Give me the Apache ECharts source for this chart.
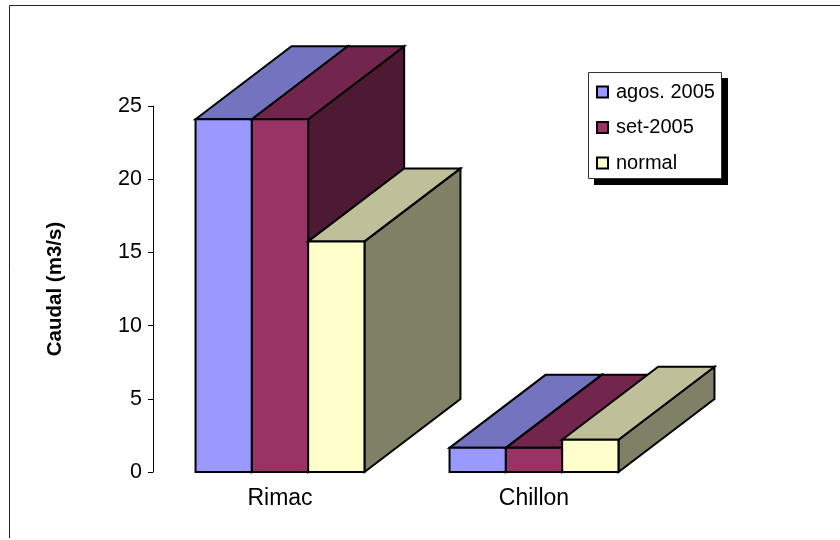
<!DOCTYPE html>
<html><head><meta charset="utf-8">
<style>html,body{margin:0;padding:0;background:#fff}#c{width:840px;height:540px}</style>
<script src="https://cdn.jsdelivr.net/npm/echarts@6/dist/echarts.min.js"></script>
</head><body><div id="c"></div>
<script>
const categories = ['Rimac', 'Chillon'];
const agos2005 = [24.1, 1.65];
const set2005 = [24.1, 1.65];
const normal = [15.75, 2.2];
const seriesNames = ['agos. 2005', 'set-2005', 'normal'];
const yTicks = {min: 0, max: 25, interval: 5};
const faces = [
  {front: '#9999FF', top: '#7373BF', side: '#4D4D80'},
  {front: '#993366', top: '#73264D', side: '#4D1933'},
  {front: '#FFFFCC', top: '#BFBF99', side: '#808066'}
];
const FONT = 'Liberation Sans';
const DEPTH_X = 96, DEPTH_Y = 73, BAR_RATIO = 0.2217;
const edge = {stroke: '#000', lineWidth: 2, lineJoin: 'miter'};

function box(idx) {
  return function (params, api) {
    const band = api.size([1, 0])[0];
    const w = band * BAR_RATIO;
    const cat = api.value(0), val = api.value(1);
    const top = api.coord([cat, val]), base = api.coord([cat, 0]);
    const x0 = top[0] + (idx - 1.5) * w, x1 = x0 + w;
    const y0 = top[1], y1 = base[1];
    const poly = (pts, fill) => ({type: 'polygon', shape: {points: pts}, style: Object.assign({fill}, edge)});
    return {type: 'group', children: [
      poly([[x1, y0], [x1 + DEPTH_X, y0 - DEPTH_Y], [x1 + DEPTH_X, y1 - DEPTH_Y], [x1, y1]], faces[idx].side),
      poly([[x0, y0], [x0 + DEPTH_X, y0 - DEPTH_Y], [x1 + DEPTH_X, y0 - DEPTH_Y], [x1, y0]], faces[idx].top),
      poly([[x0, y0], [x1, y0], [x1, y1], [x0, y1]], faces[idx].front)
    ]};
  };
}
const values = [agos2005, set2005, normal];
const chart = echarts.init(document.getElementById('c'), null, {renderer: 'canvas'});
chart.setOption({
  animation: false,
  backgroundColor: '#fff',
  textStyle: {fontFamily: FONT},
  grid: {left: 153, top: 106, width: 508, height: 366},
  graphic: [
    {type: 'polyline', silent: true, z: 0, shape: {points: [[9.5, 538], [9.5, 5.5], [840, 5.5]]},
      style: {stroke: '#222', lineWidth: 1, fill: null}},
    {type: 'rect', silent: true, z: 1, shape: {x: 594, y: 78, width: 134, height: 107}, style: {fill: '#000'}},
    {type: 'rect', silent: true, z: 2, shape: {x: 588.5, y: 72.5, width: 133, height: 106},
      style: {fill: '#fff', stroke: '#333', lineWidth: 1}}
  ],
  xAxis: {type: 'category', data: categories, axisLine: {show: false}, axisTick: {show: false},
    axisLabel: {color: '#000', fontSize: 23, fontFamily: FONT, margin: 15}},
  yAxis: {type: 'value', min: yTicks.min, max: yTicks.max, interval: yTicks.interval,
    name: 'Caudal (m3/s)', nameLocation: 'middle', nameGap: 87, nameRotate: 90,
    nameTextStyle: {color: '#000', fontSize: 20.5, fontWeight: 'bold', fontFamily: FONT},
    splitLine: {show: false},
    axisLine: {show: true, lineStyle: {color: '#000', width: 1}},
    axisTick: {show: true, length: 5, lineStyle: {color: '#000', width: 1}},
    axisLabel: {color: '#000', fontSize: 21.5, fontFamily: FONT, margin: 11}},
  legend: {show: true, z: 10, orient: 'vertical', left: 588, top: 72, padding: [10, 6, 9, 8],
    itemWidth: 11, itemHeight: 11, itemGap: 15.5, align: 'left', icon: 'rect',
    itemStyle: {borderColor: '#000', borderWidth: 2},
    textStyle: {color: '#000', fontSize: 20, lineHeight: 20, fontFamily: FONT, padding: [0, 0, 0, 3]},
    data: seriesNames},
  series: seriesNames.map((name, i) => ({
    name, type: 'custom', coordinateSystem: 'cartesian2d', renderItem: box(i), clip: false,
    itemStyle: {color: faces[i].front},
    encode: {x: 0, y: 1},
    data: categories.map((c, k) => [k, values[i][k]])
  }))
});
</script></body></html>
